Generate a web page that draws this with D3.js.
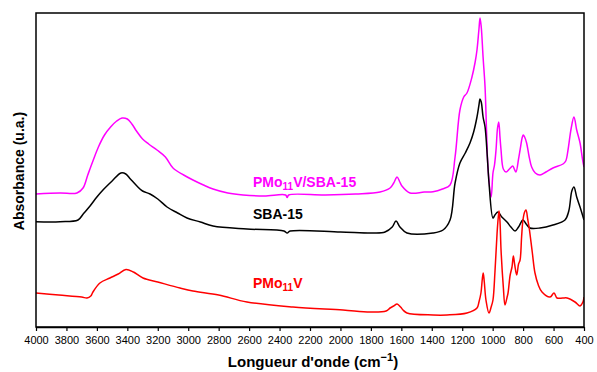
<!DOCTYPE html>
<html><head><meta charset="utf-8">
<script src="https://cdn.jsdelivr.net/npm/d3@7/dist/d3.min.js"></script>
<style>
body{margin:0;background:#fff;}
text{font-family:"Liberation Sans",Arial,sans-serif;}
</style></head>
<body><svg id="c" width="597" height="372"></svg>
<script>
// Wavenumbers (cm-1) and absorbance (a.u., offset) per spectrum
const hybridWn = [4000,3842,3731,3691,3660,3626,3590,3550,3510,3470,3435,3400,3370,3340,3300,3260,3205,3150,3100,3030,2969,2900,2837,2740,2640,2500,2360,2350,2340,2100,1900,1740,1674,1650,1628,1610,1596,1543,1450,1392,1330,1280,1247,1215,1190,1169,1136,1115,1103,1090,1083,1075,1063,1050,1040,1031,1010,998,988,978,968,960,952,945,930,912,890,868,858,847,830,820,805,799,790,777,760,744,720,689,650,604,538,520,505,485,466,448,426,410,400];
const hybridAbs = [1.33,1.34,1.34,1.39,1.52,1.66,1.80,1.92,2.00,2.06,2.09,2.08,2.03,1.96,1.88,1.83,1.77,1.70,1.59,1.52,1.47,1.42,1.38,1.34,1.32,1.31,1.32,1.295,1.32,1.32,1.33,1.35,1.39,1.44,1.50,1.45,1.41,1.34,1.35,1.353,1.38,1.42,1.70,2.17,2.30,2.34,2.50,2.65,2.77,2.98,3.09,3.00,2.70,2.40,1.95,1.60,1.30,1.54,1.62,1.77,1.99,2.05,1.90,1.77,1.58,1.55,1.58,1.61,1.58,1.55,1.68,1.77,1.90,1.92,1.90,1.84,1.70,1.60,1.54,1.52,1.55,1.59,1.63,1.66,1.77,1.98,2.10,1.97,1.84,1.68,1.60];

const sbaWn = [4000,3842,3724,3690,3645,3600,3560,3500,3442,3410,3380,3337,3300,3251,3200,3139,3070,3008,2920,2837,2614,2371,2350,2330,2000,1786,1707,1660,1635,1609,1563,1392,1326,1280,1247,1215,1180,1149,1125,1103,1090,1083,1075,1063,1050,1035,1024,998,985,965,940,906,880,853,830,801,780,755,689,604,525,500,480,466,448,426,400];
const sbaAbs = [1.053,1.053,1.07,1.13,1.21,1.30,1.37,1.46,1.54,1.53,1.48,1.41,1.36,1.33,1.28,1.20,1.14,1.09,1.05,1.01,0.98,0.96,0.94,0.96,0.95,0.94,0.95,1.00,1.06,1.00,0.94,0.94,0.97,1.07,1.44,1.64,1.74,1.84,1.95,2.10,2.22,2.28,2.25,2.10,2.00,1.70,1.44,1.09,1.12,1.15,1.10,1.05,1.00,0.96,1.00,1.07,1.03,0.99,0.99,1.02,1.07,1.16,1.36,1.40,1.30,1.20,1.07];

const pmoWn = [4000,3850,3700,3665,3640,3626,3580,3514,3460,3409,3360,3297,3200,3054,2969,2800,2614,2312,1983,1806,1700,1674,1650,1628,1605,1589,1563,1392,1300,1169,1103,1090,1077,1068,1062,1055,1044,1024,1010,998,985,971,963,958,952,945,930,919,905,899,885,873,864,855,842,830,820,810,801,790,781,770,761,740,722,700,676,623,597,577,540,511,459,426,407,400];
const pmoAbs = [0.34,0.32,0.30,0.29,0.31,0.35,0.44,0.49,0.53,0.575,0.55,0.49,0.45,0.39,0.36,0.32,0.25,0.20,0.17,0.15,0.16,0.19,0.21,0.23,0.20,0.17,0.14,0.12,0.12,0.14,0.19,0.25,0.34,0.48,0.54,0.45,0.27,0.14,0.20,0.27,0.55,0.94,1.10,1.16,1.06,0.77,0.40,0.22,0.30,0.34,0.52,0.60,0.71,0.62,0.52,0.63,0.67,0.90,1.07,1.15,1.17,1.08,1.00,0.75,0.54,0.42,0.35,0.30,0.34,0.29,0.29,0.29,0.25,0.21,0.25,0.30];

const xTicks = d3.range(4000, 399, -200);
const seriesNames = ["PMo11V/SBA-15","SBA-15","PMo11V"];
const seriesColors = ["#ff00ff","#000000","#ff0000"];

const svg = d3.select("#c");
const L = 36, R = 584, T = 13, B = 327;
const x = d3.scaleLinear().domain([4000, 400]).range([L, R]);
const y = d3.scaleLinear().domain([0, 3.14]).range([B, T]);

const line = d3.line().x(d => x(d[0])).y(d => y(d[1])).curve(d3.curveCatmullRom.alpha(0.5));
const sets = [
  [hybridWn, hybridAbs, seriesColors[0]],
  [sbaWn, sbaAbs, seriesColors[1]],
  [pmoWn, pmoAbs, seriesColors[2]]
];
svg.append("clipPath").attr("id","cp").append("rect")
  .attr("x", L).attr("y", T).attr("width", R-L).attr("height", B-T);
sets.forEach(([w, a, c]) => {
  svg.append("path").datum(w.map((v,i)=>[v,a[i]]))
    .attr("d", line).attr("fill","none").attr("stroke", c)
    .attr("stroke-width",1.5).attr("stroke-linejoin","round").attr("clip-path","url(#cp)");
});

// frame
svg.append("rect").attr("x",L).attr("y",T).attr("width",R-L).attr("height",B-T)
  .attr("fill","none").attr("stroke","#000").attr("stroke-width",1.5);

const xAxis = svg.append("g").attr("transform",`translate(0,${B})`)
  .call(d3.axisBottom(x).tickValues(xTicks).tickSize(4).tickSizeOuter(0).tickPadding(5).tickFormat(d3.format("d")));
xAxis.select(".domain").attr("stroke-width",1.5);
xAxis.selectAll(".tick line").attr("stroke-width",1.2);
xAxis.selectAll("text").attr("font-size",11).attr("fill","#000")
  .attr("font-family",'"Liberation Sans",Arial,sans-serif');

// axis titles
const xt = svg.append("text").attr("x",313).attr("y",367).attr("text-anchor","middle")
  .attr("font-size",15).attr("font-weight","bold");
xt.append("tspan").text("Longueur d'onde (cm");
xt.append("tspan").attr("dy",-6).attr("font-size",11).text("\u22121");
xt.append("tspan").attr("dy",6).text(")");

svg.append("text").attr("transform","translate(24,171) rotate(-90)").attr("text-anchor","middle")
  .attr("font-size",14).attr("font-weight","bold").text("Absorbance (u.a.)");

// series labels
function label(xp, yp, color, parts){
  const t = svg.append("text").attr("x",xp).attr("y",yp).attr("fill",color)
    .attr("font-size",14).attr("font-weight","bold");
  parts.forEach(p => {
    if (p.sub) t.append("tspan").attr("dy",3).attr("font-size",10).text(p.t);
    else t.append("tspan").attr("dy", p.back ? -3 : 0).text(p.t);
  });
}
label(253,187,seriesColors[0],[{t:"PMo"},{t:"11",sub:true},{t:"V/SBA-15",back:true}]);
label(253,219,seriesColors[1],[{t:"SBA-15"}]);
label(253,288,seriesColors[2],[{t:"PMo"},{t:"11",sub:true},{t:"V",back:true}]);
</script></body></html>
